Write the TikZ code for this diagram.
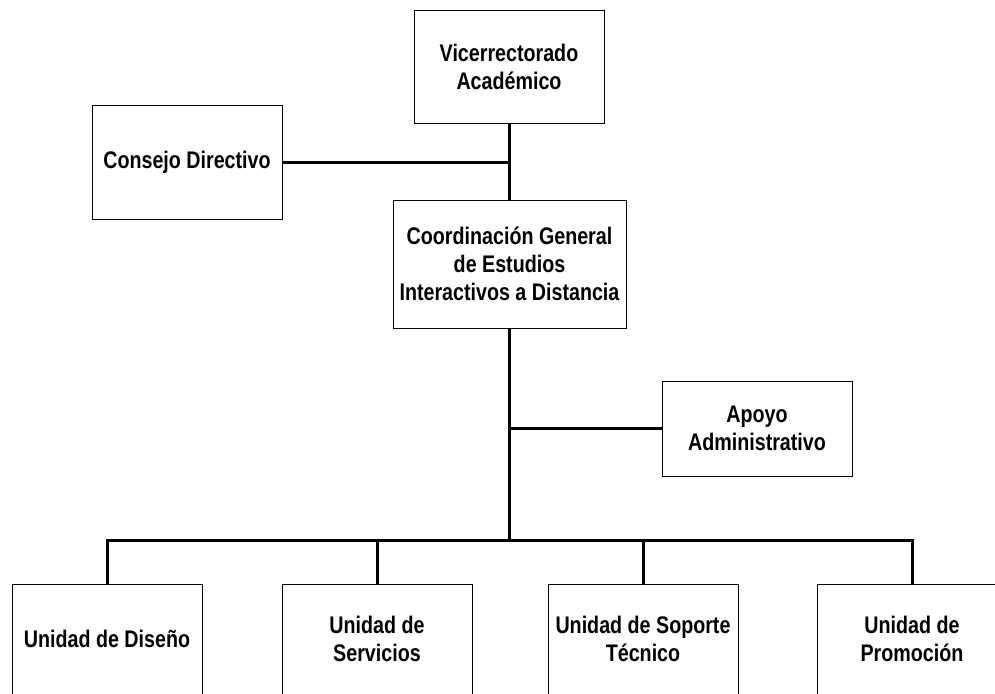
\documentclass[tikz,border=0pt]{standalone}
\usepackage{fontspec}
\setmainfont{Liberation Sans}[FakeStretch=0.82]
\usepackage{tikz}
\usetikzlibrary{positioning}

\begin{document}
\begin{tikzpicture}[x=1pt, y=-1pt,
    unitbox/.style={draw, line width=0.9pt, minimum width=190pt, align=center,
        font=\fontsize{24}{28}\selectfont\bfseries, inner sep=0pt},
    link/.style={line width=3pt}]
    % page frame
    \clip (0,0) rectangle (995,693);

    % top levels
    \node[unitbox, minimum height=113pt] (vice) at (509,66.5) {Vicerrectorado\\Académico};
    \node[unitbox, minimum height=114pt] (consejo) at (187,162) {Consejo Directivo};
    \node[unitbox, minimum width=233pt, minimum height=128pt] (coord) at (509.5,264)
        {Coordinación General\\de Estudios\\Interactivos a Distancia};
    \node[unitbox, minimum height=95pt] (apoyo) at (757,428.5) {Apoyo\\Administrativo};

    % units
    \node[unitbox, minimum height=110pt] (diseno) at (107,639) {Unidad de Diseño};
    \node[unitbox, minimum height=110pt] (servicios) at (377,639) {Unidad de\\Servicios};
    \node[unitbox, minimum height=110pt] (soporte) at (643,639) {Unidad de Soporte\\Técnico};
    \node[unitbox, minimum height=110pt] (promocion) at (912,639) {Unidad de\\Promoción};

    \coordinate (bus) at (509.5,540);

    % connectors
    \draw[link] (vice.south) -- (vice.south |- coord.north);
    \draw[link] (consejo.east) -- (consejo.east -| vice.south);
    \draw[link] (coord.south) -- (bus);
    \draw[link] (apoyo.west -| coord.south) -- (apoyo.west);
    \draw[link] (diseno.north) -- (diseno.north |- bus) -- (promocion.north |- bus) -- (promocion.north);
    \draw[link] (servicios.north) -- (servicios.north |- bus);
    \draw[link] (soporte.north) -- (soporte.north |- bus);
\end{tikzpicture}
\end{document}
